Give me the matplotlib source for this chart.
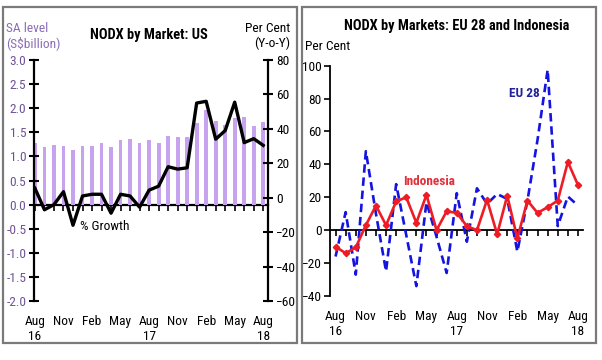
import matplotlib
matplotlib.use("Agg")
import matplotlib.pyplot as plt
from matplotlib.patches import Rectangle
from matplotlib import font_manager

# pick a narrow sans font if one is installed, otherwise Liberation Sans at smaller sizes
_names = {f.name for f in font_manager.fontManager.ttflist}
_narrow = None
for cand in ['Liberation Sans Narrow', 'Arial Narrow', 'Roboto Condensed', 'DejaVu Sans Condensed']:
    if cand in _names:
        _narrow = cand
        break
if _narrow:
    plt.rcParams['font.family'] = [_narrow, 'Liberation Sans', 'DejaVu Sans']
    SZ, TSZ = 9.6, 10.4
else:
    plt.rcParams['font.family'] = ['Liberation Sans', 'DejaVu Sans']
    SZ, TSZ = 8.6, 9.2

# ---- data ----
months = list(range(25))  # Aug 16 .. Aug 18
tick_pos = [0, 3, 6, 9, 12, 15, 18, 21, 24]
tick_labels = ["Aug\n16", "Nov", "Feb", "May", "Aug\n17", "Nov", "Feb", "May", "Aug\n18"]

us_level = [1.27, 1.19, 1.24, 1.21, 1.14, 1.21, 1.22, 1.28, 1.19, 1.35, 1.37, 1.28, 1.35,
            1.28, 1.43, 1.40, 1.40, 1.69, 1.97, 1.74, 1.65, 1.80, 1.81, 1.64, 1.72]
us_growth = [5.5, -7, -4, 3.5, -16, 1, 2, 2, -9, 2, 1, -5.5, 4.4,
             6.7, 18, 16.6, 17.4, 55, 56, 34, 39, 55.5, 32, 34.3, 30.4]

eu28 = [-16, 11, -27, 48, 10, -25, 28, -3, -34, 17, -4, -26, 22.5,
        -7, 25.5, 16, 22, 19, -13, 18, 55, 97.5, 2.5, 20.5, 15]
indonesia = [-10, -14, -10.5, 3, 15, 3, 17.5, 20, 4.5, 21.5, 0, 11.5, 10.5,
             2.5, 0, 18.5, -2.5, 21, -5, 18, 10.5, 14, 18, 41.5, 27.5]

left_yticks = [3.0, 2.5, 2.0, 1.5, 1.0, 0.5, 0.0, -0.5, -1.0, -1.5, -2.0]
right_yticks = [80, 60, 40, 20, 0, -20, -40, -60]
eu_yticks = [100, 80, 60, 40, 20, 0, -20, -40]

W, H = 602, 360
fig = plt.figure(figsize=(W / 100, H / 100), dpi=100)

def fx(px):
    return px / W

def fy(py):
    return 1 - py / H

# panel frames
for x0, x1 in [(3, 297), (302, 596)]:
    fig.patches.append(Rectangle((fx(x0), fy(343)), fx(x1 - x0), (343 - 7) / H,
                                 transform=fig.transFigure, fill=False,
                                 edgecolor='#7a7a7a', linewidth=1.6, zorder=0))

purple_txt = '#6f5396'
bar_col = '#c7a2ee'

# ---------------- left panel ----------------
ax = fig.add_axes([fx(34), fy(301), fx(268 - 34), (301 - 60) / H])
ax.bar(months, us_level, width=0.4, color=bar_col, zorder=1)
ax.set_xlim(-0.1, 24.5)
ax.set_ylim(-2.0, 3.0)
ax.set_yticks(left_yticks)
ax.set_yticklabels([f"{v:.1f}" for v in left_yticks])
ax.tick_params(axis='y', direction='inout', length=7, width=1.5, colors='black',
               labelcolor=purple_txt, labelsize=SZ, pad=2)
for s in ['top', 'bottom', 'right']:
    ax.spines[s].set_visible(False)
ax.spines['left'].set_linewidth(1.6)
ax.set_xticks(tick_pos)
ax.set_xticklabels(tick_labels, fontsize=SZ)
ax.tick_params(axis='x', length=0, pad=10)

sec = ax.secondary_xaxis(0.4)
sec.set_xticks(months)
sec.set_xticklabels([])
sec.tick_params(axis='x', direction='out', length=4, width=1.2)
sec.spines['bottom'].set_linewidth(1.6)

ax2 = ax.twinx()
ax2.plot(months, us_growth, color='black', linewidth=2.4, zorder=3)
ax2.set_ylim(-60, 80)
ax2.set_yticks(right_yticks)
ax2.tick_params(axis='y', direction='inout', length=7, width=1.5, labelsize=SZ, pad=2.5)
for s in ['top', 'bottom', 'left']:
    ax2.spines[s].set_visible(False)
ax2.spines['right'].set_linewidth(1.6)
ax2.set_xlim(-0.1, 24.5)

ax2.text(4.7, -17, "% Growth", fontsize=SZ, ha='left', va='center')

fig.text(fx(149), fy(35), "NODX by Market: US", fontsize=TSZ, fontweight='bold',
         ha='center', va='center')
fig.text(fx(6), fy(36), "SA level\n(S$billion)", fontsize=SZ, color='#8a6cb5',
         ha='left', va='center', linespacing=1.15)
fig.text(fx(290), fy(36), "Per Cent\n(Y-o-Y)", fontsize=SZ, ha='right', va='center',
         linespacing=1.15)

# ---------------- right panel ----------------
bx = fig.add_axes([fx(330), fy(296), fx(583 - 330), (296 - 65.7) / H])
bx.plot(months, eu28, color='#1414e0', linewidth=1.9, linestyle=(0, (3.2, 1.8)), zorder=2)
bx.plot(months, indonesia, color='#ee1c25', linewidth=1.9, marker='D', markersize=3.2,
        zorder=3)
bx.set_xlim(-0.55, 24.5)
bx.set_ylim(-40, 100)
bx.set_yticks(eu_yticks)
bx.tick_params(axis='y', direction='out', length=4, width=1.2, labelsize=SZ, pad=2)
for s in ['top', 'bottom', 'right']:
    bx.spines[s].set_visible(False)
bx.spines['left'].set_linewidth(1.3)
bx.set_xticks(tick_pos)
bx.set_xticklabels(tick_labels, fontsize=SZ)
bx.tick_params(axis='x', length=0, pad=10)

sec2 = bx.secondary_xaxis(40 / 140)
sec2.set_xticks(months)
sec2.set_xticklabels([])
sec2.tick_params(axis='x', direction='out', length=4, width=1.2)
sec2.spines['bottom'].set_linewidth(1.3)

bx.text(18.7, 83, "EU 28", color='#22229a', fontsize=SZ, fontweight='bold',
        ha='center', va='center')
bx.text(9.3, 29.5, "Indonesia", color='#e0303a', fontsize=SZ, fontweight='bold',
        ha='center', va='center')

fig.text(fx(457), fy(26), "NODX by Markets: EU 28 and Indonesia", fontsize=TSZ,
         fontweight='bold', ha='center', va='center')
fig.text(fx(305), fy(46), "Per Cent", fontsize=SZ, ha='left', va='center')

fig.savefig("out.png", dpi=100)
